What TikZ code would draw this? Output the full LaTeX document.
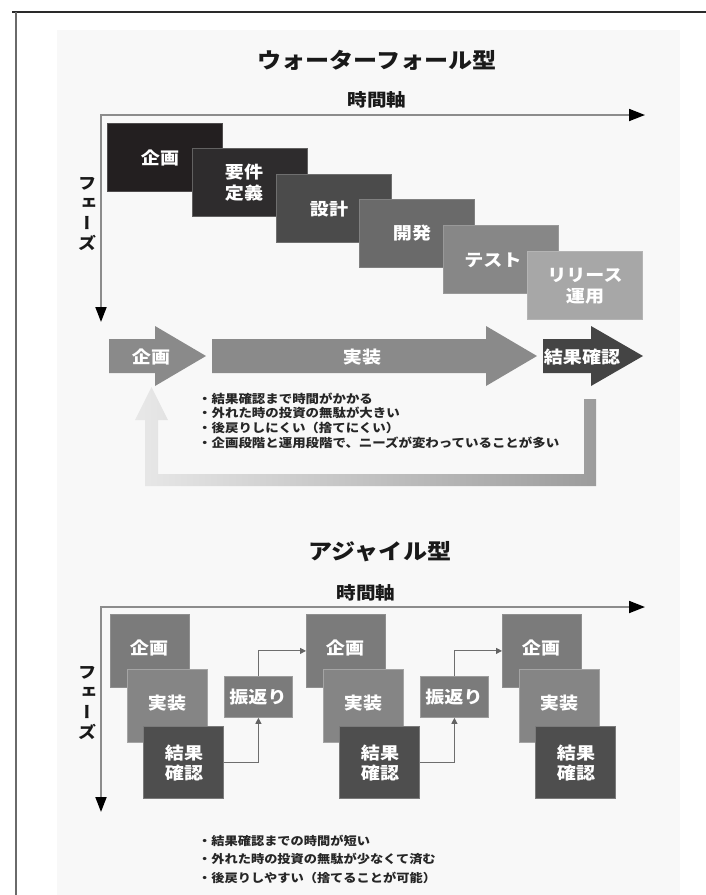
\documentclass[tikz,border=0pt]{standalone}
\usepackage{fontspec}
\newfontfamily\jp{Noto Sans CJK JP}[FakeStretch=1.12]
\newfontfamily\jpv{Noto Sans CJK JP}[RawFeature=+vert, FakeStretch=1.12]
\usetikzlibrary{arrows.meta}
\definecolor{bgc}{HTML}{F8F8F8}
\definecolor{framec}{HTML}{2A2A2A}
\definecolor{framel}{HTML}{6A6A6A}
\definecolor{axc}{HTML}{8C8C8C}
\definecolor{wfa}{HTML}{231F20}
\definecolor{wfb}{HTML}{2E2C2D}
\definecolor{wfc}{HTML}{4B4B4B}
\definecolor{wfd}{HTML}{6A6A6A}
\definecolor{wfe}{HTML}{878787}
\definecolor{wff}{HTML}{A7A7A7}
\definecolor{arl}{HTML}{8A8A8A}
\definecolor{ard}{HTML}{444444}
\definecolor{loopl}{HTML}{E8E8E8}
\definecolor{loopr}{HTML}{9C9C9C}
\definecolor{agp}{HTML}{7B7B7B}
\definecolor{agi}{HTML}{858585}
\definecolor{agr}{HTML}{4E4E4E}
\definecolor{connc}{HTML}{6E6E6E}
\tikzset{
  ttl/.style={font=\jp\bfseries\fontsize{21.5}{24}\selectfont, text=black!90, inner sep=0},
  axlab/.style={font=\jp\bfseries\fontsize{17.5}{20}\selectfont, text=black!90, inner sep=0},
  phase/.style={font=\jpv\bfseries\fontsize{16.5}{20}\selectfont, text=black!90, align=center, inner sep=0},
  axline/.style={draw=axc, line width=1.8pt,
     {Triangle[length=15pt,width=11pt,color=black]}-{Triangle[length=16pt,width=12pt,color=black]}},
  wfbox/.style={anchor=north west, inner sep=0, minimum width=115pt, minimum height=68pt,
     line width=0.8pt},
  wflab/.style={font=\jp\bfseries\fontsize{17}{21}\selectfont, text=white, align=center, inner sep=0},
  bigarrow/.style={fill=arl},
  bullets/.style={font=\jp\bfseries\fontsize{12}{14.7}\selectfont, text=black!85, align=left,
     anchor=north west, inner sep=0},
  agbox/.style={anchor=north west, inner sep=0, line width=0.8pt},
  aglab/.style={font=\jp\bfseries\fontsize{17}{20}\selectfont, text=white, align=center, inner sep=0},
  conn/.style={draw=connc, line width=1pt, -{Triangle[length=6pt,width=6pt,color=connc!90!black]}}
}
\begin{document}
\begin{tikzpicture}[x=1pt,y=-1pt]
\useasboundingbox (0,0) rectangle (706,895);
\fill[white] (0,0) rectangle (706,895);
\fill[bgc] (57,30) rectangle (680,895);
\draw[framec, line width=1.4pt] (12,12) -- (706,12);
\draw[framel, line width=1.4pt] (16,12) -- (16,895);

% ===== Waterfall =====
\node[ttl] (t1) at (377,60) {ウォーターフォール型};
\node[axlab] (ax1) at (377,100) {時間軸};
\coordinate (o1) at (101,115);
\coordinate (xe1) at (645,115);
\coordinate (ye1) at (101,322);
\draw[axline] (ye1) -- (o1) -- (xe1);
\node[phase] (ph1) at (87,214) {フ\\ェ\\ー\\ズ};

\node[wfbox, fill=wfa, draw=wfa!80!white] (b1) at (107,123) {};
\node[wflab] (l1) at (160,157.5) {企画};
\node[wfbox, fill=wfb, draw=wfb!75!white] (b2) at (192,148) {};
\node[wflab] (l2) at (244,182.5) {要件\\定義};
\node[wfbox, fill=wfc, draw=wfc!80!white] (b3) at (276,174) {};
\node[wflab] (l3) at (329,209) {設計};
\node[wfbox, fill=wfd, draw=wfd!85!white] (b4) at (359,199) {};
\node[wflab] (l4) at (412,233) {開発};
\node[wfbox, fill=wfe, draw=wfe!85!white] (b5) at (443,225) {};
\node[wflab] (l5) at (493,260) {テスト};
\node[wfbox, fill=wff, draw=wff!85!white] (b6) at (527,251) {};
\node[wflab] (l6) at (585,286) {リリース\\運用};

% big arrows
\fill[bigarrow] (109,339) -- (155,339) -- (155,326) -- (206,356) -- (155,386) -- (155,373) -- (109,373) -- cycle;
\node[wflab] (a1) at (151,357) {企画};
\fill[bigarrow] (212,339) -- (486,339) -- (486,326) -- (537,356) -- (486,386) -- (486,373) -- (212,373) -- cycle;
\node[wflab] (a2) at (362,357) {実装};
\fill[ard] (543,339) -- (591,339) -- (591,326) -- (643,356) -- (591,386) -- (591,373) -- (543,373) -- cycle;
\node[wflab] (a3) at (582,357) {結果確認};

% feedback loop
\shade[left color=loopl, right color=loopr]
  (596,399) -- (596,486) -- (145,486) -- (145,420) -- (135,420) -- (151.5,387)
  -- (168,420) -- (158,420) -- (158,474) -- (584,474) -- (584,399) -- cycle;

\node[bullets] (w1) at (198,392.5) {・結果確認まで時間がかかる\\・外れた時の投資の無駄が大きい\\・後戻りしにくい（捨てにくい）\\・企画段階と運用段階で、ニーズが変わっていることが多い};

% ===== Agile =====
\node[ttl] (t2) at (380,552) {アジャイル型};
\node[axlab] (ax2) at (366,593) {時間軸};
\coordinate (o2) at (101,607);
\coordinate (xe2) at (645,607);
\coordinate (ye2) at (101,812);
\draw[axline] (ye2) -- (o2) -- (xe2);
\node[phase] (ph2) at (87,703) {フ\\ェ\\ー\\ズ};

% group 1
\node[agbox, fill=agp, draw=agp!85!white, minimum width=79pt, minimum height=73pt] (p1) at (110,614) {};
\node[aglab] (pl1) at (149,648) {企画};
\node[agbox, fill=agi, draw=agi!75!white, minimum width=80pt, minimum height=73pt] (i1) at (127,669) {};
\node[aglab] (il1) at (167,703) {実装};
\node[agbox, fill=agr, draw=agr!75!white, minimum width=80pt, minimum height=72pt] (r1) at (143,726) {};
\node[aglab] (rl1) at (184,763) {結果\\確認};
\node[agbox, fill=agp, draw=agp!75!white, minimum width=68pt, minimum height=41pt] (f1) at (224,676) {};
\node[aglab] (fl1) at (258,697) {振返り};
% group 2
\node[agbox, fill=agp, draw=agp!85!white, minimum width=79pt, minimum height=73pt] (p2) at (306,614) {};
\node[aglab] (pl2) at (345,648) {企画};
\node[agbox, fill=agi, draw=agi!75!white, minimum width=80pt, minimum height=73pt] (i2) at (323,669) {};
\node[aglab] (il2) at (363,703) {実装};
\node[agbox, fill=agr, draw=agr!75!white, minimum width=80pt, minimum height=72pt] (r2) at (339,726) {};
\node[aglab] (rl2) at (380,763) {結果\\確認};
\node[agbox, fill=agp, draw=agp!75!white, minimum width=68pt, minimum height=41pt] (f2) at (420,676) {};
\node[aglab] (fl2) at (454,697) {振返り};
% group 3
\node[agbox, fill=agp, draw=agp!85!white, minimum width=79pt, minimum height=73pt] (p3) at (502,614) {};
\node[aglab] (pl3) at (541,648) {企画};
\node[agbox, fill=agi, draw=agi!75!white, minimum width=80pt, minimum height=73pt] (i3) at (519,669) {};
\node[aglab] (il3) at (559,703) {実装};
\node[agbox, fill=agr, draw=agr!75!white, minimum width=80pt, minimum height=72pt] (r3) at (535,726) {};
\node[aglab] (rl3) at (576,763) {結果\\確認};

\draw[conn] (r1.east) -| (f1.south);
\draw[conn] (f1.north) |- (p2.west);
\draw[conn] (r2.east) -| (f2.south);
\draw[conn] (f2.north) |- (p3.west);

\node[bullets, font=\jp\bfseries\fontsize{11.8}{18.5}\selectfont] (g1) at (198,834.5) {・結果確認までの時間が短い\\・外れた時の投資の無駄が少なくて済む\\・後戻りしやすい（捨てることが可能）};
\end{tikzpicture}
\end{document}
